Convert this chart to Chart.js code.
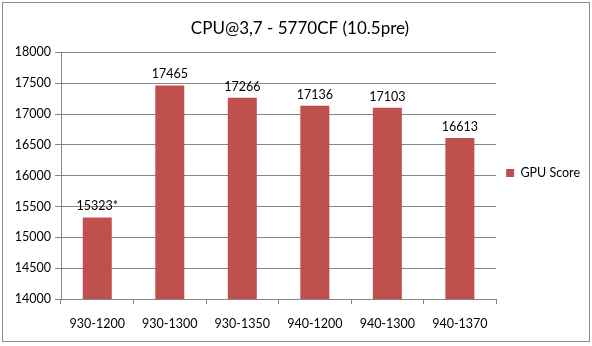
<!DOCTYPE html>
<html><head><meta charset="utf-8">
<script src="https://cdn.jsdelivr.net/npm/chart.js@4/dist/chart.umd.min.js"></script>
<style>html,body{margin:0;padding:0;background:#fff;}#wrap{position:absolute;left:0;top:0;width:592px;height:346px;}</style>
</head><body><div id="wrap"><canvas id="c" width="592" height="346"></canvas></div>
<script>
const categories = ["930-1200","930-1300","930-1350","940-1200","940-1300","940-1370"];
const gpuScore = [15323,17465,17266,17136,17103,16613];
const valueLabels = ["15323*","17465","17266","17136","17103","16613"];
const yTicks = {min:14000, max:18000, step:500};

const frame = {id:'frame', beforeDraw(ch){const c=ch.ctx;c.save();c.fillStyle='#fff';c.fillRect(0,0,592,346);c.strokeStyle='#8c8c8c';c.lineWidth=1;c.strokeRect(2.5,2.5,587,339);c.restore();}};
const dataLabels = {id:'dl', afterDatasetsDraw(ch){const c=ch.ctx;const meta=ch.getDatasetMeta(0);c.save();c.font='12.5px Lato';c.fillStyle='#000';c.textAlign='center';c.textBaseline='alphabetic';meta.data.forEach((b,i)=>{c.fillText(valueLabels[i], b.x, b.y-7);});c.restore();}};

new Chart(document.getElementById('c'), {
  type:'bar',
  data:{labels:categories, datasets:[{label:'GPU Score', data:gpuScore, backgroundColor:'#C0504D', barPercentage:0.4, categoryPercentage:1}]},
  options:{
    responsive:false, animation:false,
    layout:{padding:{left:10,right:2,top:0,bottom:0}},
    plugins:{
      title:{display:true, text:'CPU@3,7 - 5770CF (10.5pre)', color:'#000', font:{family:'Lato', size:17, weight:'normal'}, padding:{top:18,bottom:14}},
      legend:{position:'right', labels:{boxWidth:8, boxHeight:8, padding:10, color:'#000', font:{family:'Lato', size:12.5}}},
      tooltip:{enabled:false}
    },
    scales:{
      y:{min:yTicks.min, max:yTicks.max, ticks:{stepSize:yTicks.step, color:'#000', font:{family:'Lato', size:12.5}, padding:4, callback:(v)=>String(v)},
         grid:{color:'#868686', tickLength:6}, border:{color:'#868686'},
         afterFit(s){s.width=51;}},
      x:{ticks:{color:'#000', font:{family:'Lato', size:12.5}, padding:12},
         grid:{offset:true, drawOnChartArea:false, color:'#868686', tickLength:5}, border:{color:'#868686'},
         afterFit(s){s.height=47;}}
    }
  },
  plugins:[frame, dataLabels]
});
</script></body></html>
